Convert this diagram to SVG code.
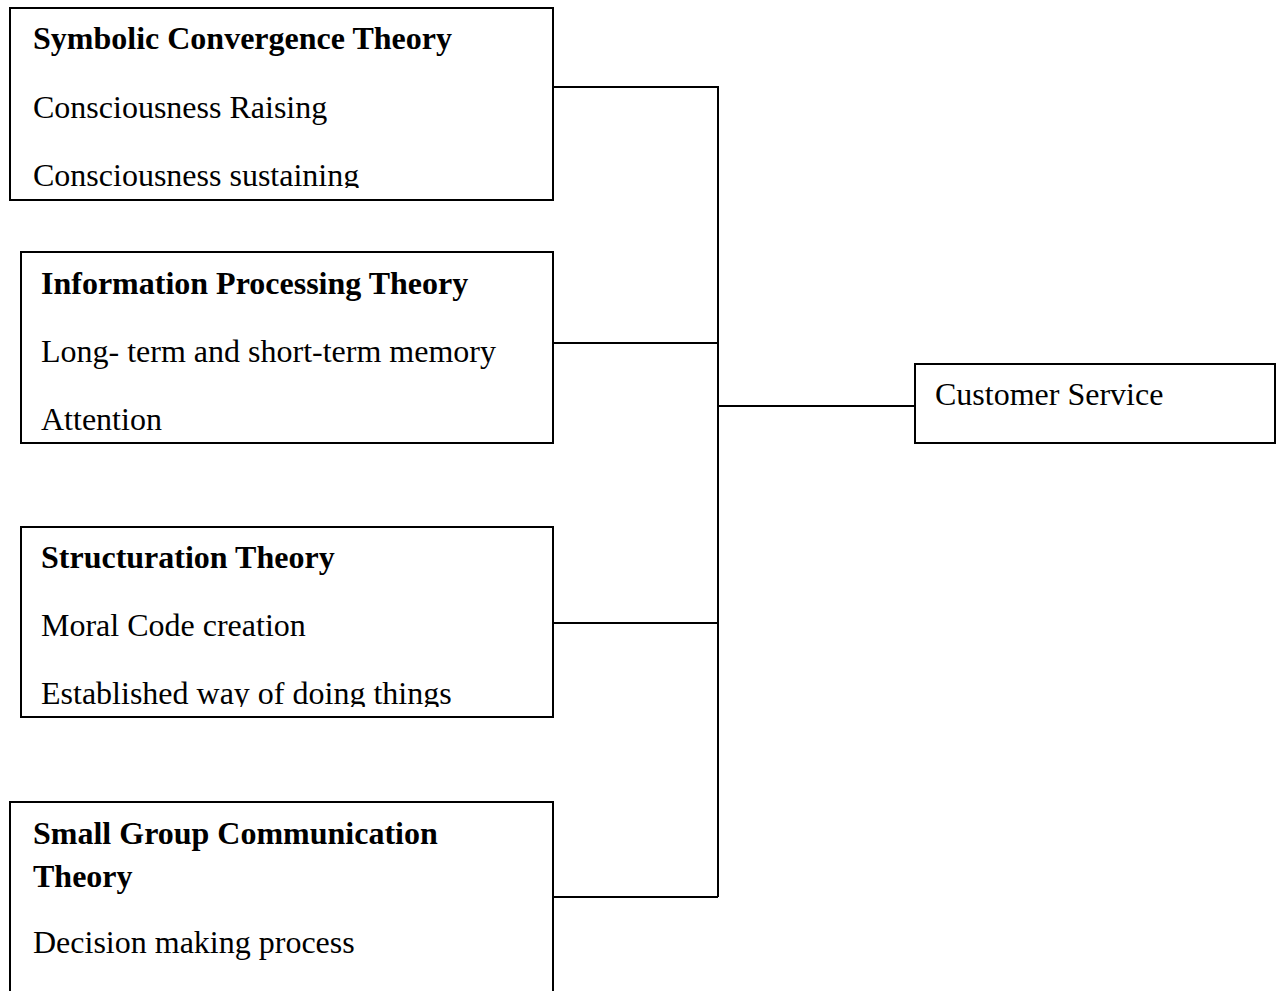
<svg xmlns="http://www.w3.org/2000/svg" width="1280" height="991" viewBox="0 0 1280 991">
<style>
rect.box{fill:#fff;stroke:#000;stroke-width:2}
text{font-family:"Liberation Serif","Times New Roman",serif;font-size:32px;fill:#000}
text.t{font-weight:bold}
.c{fill:none;stroke:#000;stroke-width:2}
</style>
<defs>
<clipPath id="cp1"><rect x="10" y="8" width="543" height="180"/></clipPath>
<clipPath id="cp3"><rect x="21" y="527" width="532" height="180"/></clipPath>
</defs>
<g id="connectors">
<path class="c" d="M553 87H718V897M553 343H718M553 623H718M553 897H718M718 406H915"/>
</g>
<g id="symbolic">
<rect class="box" x="10" y="8" width="543" height="192"/>
<g clip-path="url(#cp1)">
<text class="t" x="33" y="49">Symbolic Convergence Theory</text>
<text x="33" y="118">Consciousness Raising</text>
<text x="33" y="186">Consciousness sustaining</text>
</g>
</g>
<g id="information">
<rect class="box" x="21" y="252" width="532" height="191"/>
<text class="t" x="41" y="294">Information Processing Theory</text>
<text x="41" y="362">Long- term and short-term memory</text>
<text x="41" y="430">Attention</text>
</g>
<g id="structuration">
<rect class="box" x="21" y="527" width="532" height="190"/>
<g clip-path="url(#cp3)">
<text class="t" x="41" y="568">Structuration Theory</text>
<text x="41" y="636">Moral Code creation</text>
<text x="41" y="704">Established way of doing things</text>
</g>
</g>
<g id="smallgroup">
<rect class="box" x="10" y="802" width="543" height="200"/>
<text class="t" x="33" y="844">Small Group Communication</text>
<text class="t" x="33" y="887">Theory</text>
<text x="33" y="953">Decision making process</text>
</g>
<g id="customer">
<rect class="box" x="915" y="364" width="360" height="79"/>
<text x="935" y="405">Customer Service</text>
</g>
</svg>
